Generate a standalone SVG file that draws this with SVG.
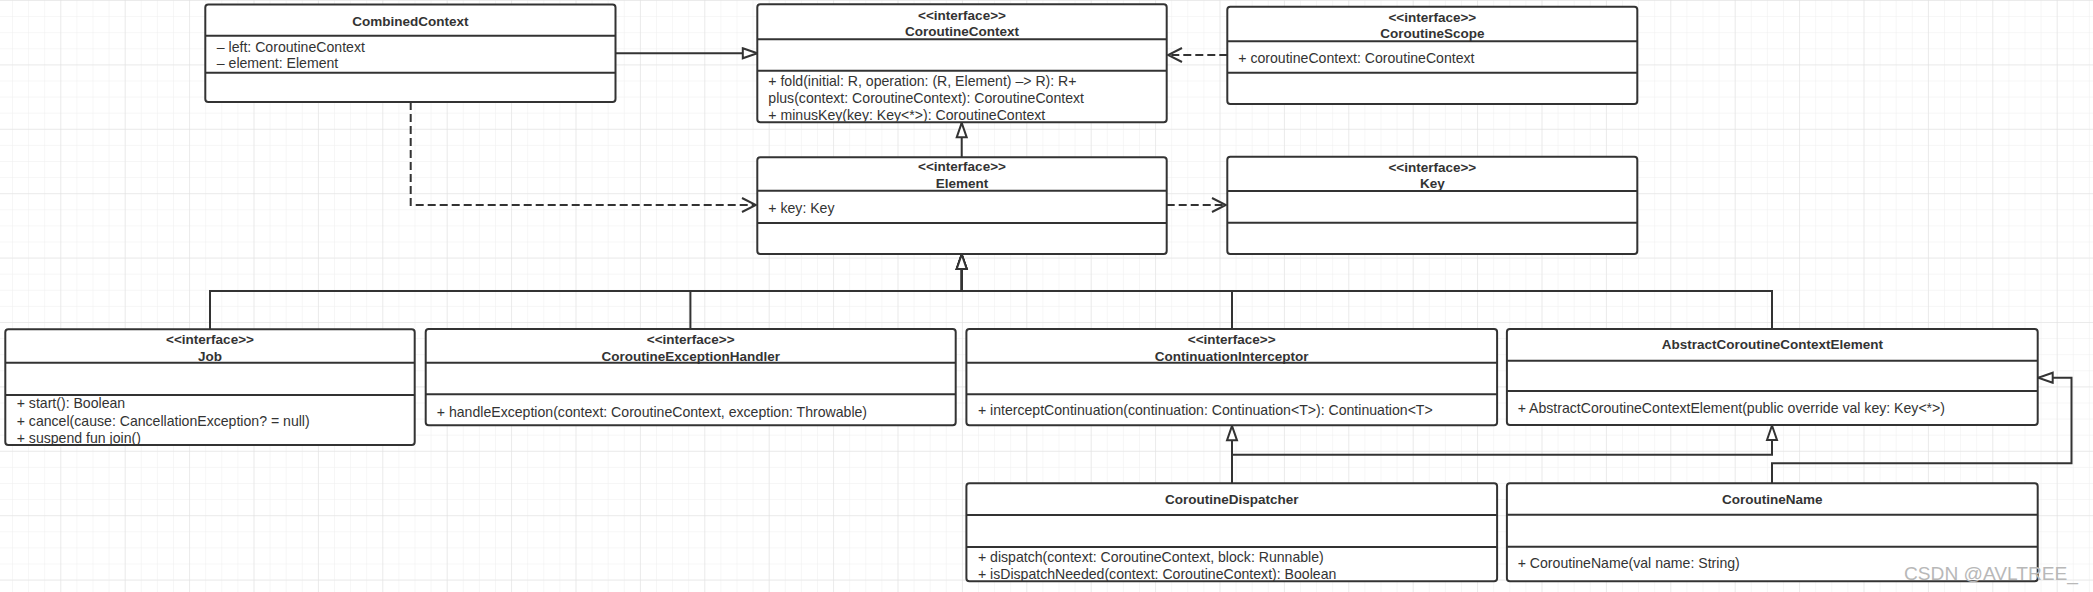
<svg xmlns="http://www.w3.org/2000/svg" width="2093" height="592" viewBox="0 0 2093 592">
<style>
.box{fill:#fff;stroke:#333;stroke-width:2}
.div{stroke:#333;stroke-width:2}
text{font-family:"Liberation Sans",Arial,sans-serif;font-size:14.1px;fill:#333}
.t{font-weight:bold;font-size:13.5px;text-anchor:middle}
.c{fill:none;stroke:#333;stroke-width:2}
.d{stroke-dasharray:8 4}
</style>
<defs>
<pattern id="minor" width="16.1" height="16.1" patternUnits="userSpaceOnUse" x="60.3" y="0">
<path d="M0,0 H16.1 M0,0 V16.1" fill="none" stroke="#eeeeee" stroke-width="1"/>
</pattern>
<pattern id="major" width="64.4" height="64.4" patternUnits="userSpaceOnUse" x="60.3" y="0">
<path d="M0,0 H64.4 M0,0 V64.4" fill="none" stroke="#e0e0e0" stroke-width="1"/>
</pattern>
<marker id="tri" markerUnits="userSpaceOnUse" viewBox="0 0 18 14" refX="16" refY="7" markerWidth="18" markerHeight="14" orient="auto">
<path d="M1.5,2 L16,7 L1.5,12 Z" fill="#fff" stroke="#333" stroke-width="2"/>
</marker>
<marker id="open" markerUnits="userSpaceOnUse" viewBox="0 0 18 18" refX="16" refY="9" markerWidth="18" markerHeight="18" orient="auto">
<path d="M2,2 L16,9 L2,16" fill="none" stroke="#333" stroke-width="2"/>
</marker>
<clipPath id="clipCC"><rect x="757" y="4" width="410" height="117.5"/></clipPath>
<clipPath id="clipJob"><rect x="5" y="329" width="410" height="115"/></clipPath>
</defs>
<rect width="2093" height="592" fill="#fff"/>
<rect width="2093" height="592" fill="url(#minor)"/>
<rect width="2093" height="592" fill="url(#major)"/>

<g id="connectors">
<path class="c" d="M615.5,53.3 H757.3" marker-end="url(#tri)"/>
<path class="c d" d="M1227.3,55 H1168" marker-end="url(#open)"/>
<path class="c" d="M961.7,157.3 V122.8" marker-end="url(#tri)"/>
<path class="c d" d="M410.7,102 V205 H756" marker-end="url(#open)"/>
<path class="c d" d="M1166.7,205 H1226" marker-end="url(#open)"/>
<path class="c" d="M210,329.3 V291 H961.7 V254.5" marker-end="url(#tri)"/>
<path class="c" d="M690.4,329 V291 H961.7 V254.5" marker-end="url(#tri)"/>
<path class="c" d="M1232,329 V291 H961.7 V254.5" marker-end="url(#tri)"/>
<path class="c" d="M1772,329 V291 H961.7 V254.5" marker-end="url(#tri)"/>
<path class="c" d="M1232,483.3 V425.8" marker-end="url(#tri)"/>
<path class="c" d="M1232,483.3 V454.7 H1772 V425.5" marker-end="url(#tri)"/>
<path class="c" d="M1772,483.3 V463.3 H2071.5 V377.7 H2038.2" marker-end="url(#tri)"/>
</g>

<g id="CombinedContext">
<rect class="box" x="205.3" y="4.6" width="410.2" height="97.4" rx="3"/>
<line class="div" x1="205.3" y1="35.7" x2="615.5" y2="35.7"/>
<line class="div" x1="205.3" y1="72.7" x2="615.5" y2="72.7"/>
<text class="t" x="410.4" y="26.4">CombinedContext</text>
<text x="216.8" y="51.7">– left: CoroutineContext</text>
<text x="216.8" y="68.3">– element: Element</text>
</g>

<g id="CoroutineContext">
<rect class="box" x="757.3" y="4.3" width="409.4" height="118" rx="3"/>
<line class="div" x1="757.3" y1="39.3" x2="1166.7" y2="39.3"/>
<line class="div" x1="757.3" y1="70.7" x2="1166.7" y2="70.7"/>
<text class="t" x="962" y="19.8">&lt;&lt;interface&gt;&gt;</text>
<text class="t" x="962" y="36.4">CoroutineContext</text>
<g clip-path="url(#clipCC)">
<text x="768.3" y="85.7">+ fold(initial: R, operation: (R, Element) –&gt; R): R+</text>
<text x="768.3" y="102.7">plus(context: CoroutineContext): CoroutineContext</text>
<text x="768.3" y="120">+ minusKey(key: Key&lt;*&gt;): CoroutineContext</text>
</g>
</g>

<g id="CoroutineScope">
<rect class="box" x="1227.3" y="6.7" width="410" height="97.3" rx="3"/>
<line class="div" x1="1227.3" y1="41.3" x2="1637.3" y2="41.3"/>
<line class="div" x1="1227.3" y1="72.7" x2="1637.3" y2="72.7"/>
<text class="t" x="1432.3" y="21.5">&lt;&lt;interface&gt;&gt;</text>
<text class="t" x="1432.3" y="38.1">CoroutineScope</text>
<text x="1238.3" y="62.7">+ coroutineContext: CoroutineContext</text>
</g>

<g id="Element">
<rect class="box" x="757.3" y="157.3" width="409.4" height="96.7" rx="3"/>
<line class="div" x1="757.3" y1="190.7" x2="1166.7" y2="190.7"/>
<line class="div" x1="757.3" y1="223" x2="1166.7" y2="223"/>
<text class="t" x="962" y="171.3">&lt;&lt;interface&gt;&gt;</text>
<text class="t" x="962" y="188.1">Element</text>
<text x="768.3" y="212.7">+ key: Key</text>
</g>

<g id="Key">
<rect class="box" x="1227.3" y="156.7" width="410" height="97.3" rx="3"/>
<line class="div" x1="1227.3" y1="191" x2="1637.3" y2="191"/>
<line class="div" x1="1227.3" y1="222.7" x2="1637.3" y2="222.7"/>
<text class="t" x="1432.3" y="171.5">&lt;&lt;interface&gt;&gt;</text>
<text class="t" x="1432.3" y="188.1">Key</text>
</g>

<g id="Job">
<rect class="box" x="5.3" y="329.3" width="409.4" height="115.7" rx="3"/>
<line class="div" x1="5.3" y1="362.7" x2="414.7" y2="362.7"/>
<line class="div" x1="5.3" y1="395" x2="414.7" y2="395"/>
<text class="t" x="210" y="344.1">&lt;&lt;interface&gt;&gt;</text>
<text class="t" x="210" y="360.8">Job</text>
<g clip-path="url(#clipJob)">
<text x="16.7" y="408.3">+ start(): Boolean</text>
<text x="16.7" y="425.7">+ cancel(cause: CancellationException? = null)</text>
<text x="16.7" y="443.3">+ suspend fun join()</text>
</g>
</g>

<g id="CoroutineExceptionHandler">
<rect class="box" x="425.7" y="329" width="530" height="96.3" rx="3"/>
<line class="div" x1="425.7" y1="362.7" x2="955.7" y2="362.7"/>
<line class="div" x1="425.7" y1="394.3" x2="955.7" y2="394.3"/>
<text class="t" x="690.7" y="344.1">&lt;&lt;interface&gt;&gt;</text>
<text class="t" x="690.7" y="360.8">CoroutineExceptionHandler</text>
<text x="436.8" y="416.7">+ handleException(context: CoroutineContext, exception: Throwable)</text>
</g>

<g id="ContinuationInterceptor">
<rect class="box" x="966.4" y="329" width="530.7" height="96.3" rx="3"/>
<line class="div" x1="966.4" y1="362.7" x2="1497.1" y2="362.7"/>
<line class="div" x1="966.4" y1="394.3" x2="1497.1" y2="394.3"/>
<text class="t" x="1231.7" y="344.1">&lt;&lt;interface&gt;&gt;</text>
<text class="t" x="1231.7" y="360.8">ContinuationInterceptor</text>
<text x="977.9" y="415">+ interceptContinuation(continuation: Continuation&lt;T&gt;): Continuation&lt;T&gt;</text>
</g>

<g id="AbstractCoroutineContextElement">
<rect class="box" x="1506.9" y="329" width="530.8" height="96" rx="3"/>
<line class="div" x1="1506.9" y1="360.7" x2="2037.7" y2="360.7"/>
<line class="div" x1="1506.9" y1="391" x2="2037.7" y2="391"/>
<text class="t" x="1772.3" y="349.1">AbstractCoroutineContextElement</text>
<text x="1517.7" y="412.7">+ AbstractCoroutineContextElement(public override val key: Key&lt;*&gt;)</text>
</g>

<g id="CoroutineDispatcher">
<rect class="box" x="966.4" y="483.3" width="530.7" height="98" rx="3"/>
<line class="div" x1="966.4" y1="515" x2="1497.1" y2="515"/>
<line class="div" x1="966.4" y1="547" x2="1497.1" y2="547"/>
<text class="t" x="1231.7" y="504.1">CoroutineDispatcher</text>
<text x="977.9" y="561.7">+ dispatch(context: CoroutineContext, block: Runnable)</text>
<text x="977.9" y="579">+ isDispatchNeeded(context: CoroutineContext): Boolean</text>
</g>

<g id="CoroutineName">
<rect class="box" x="1506.9" y="483.3" width="530.8" height="98" rx="3"/>
<line class="div" x1="1506.9" y1="514.7" x2="2037.7" y2="514.7"/>
<line class="div" x1="1506.9" y1="546.7" x2="2037.7" y2="546.7"/>
<text class="t" x="1772.3" y="504.1">CoroutineName</text>
<text x="1517.7" y="567.7">+ CoroutineName(val name: String)</text>
</g>

<text x="1904" y="580" style="font-size:18px;fill:#b8b8b8" textLength="174" lengthAdjust="spacingAndGlyphs">CSDN @AVLTREE_</text>
</svg>
